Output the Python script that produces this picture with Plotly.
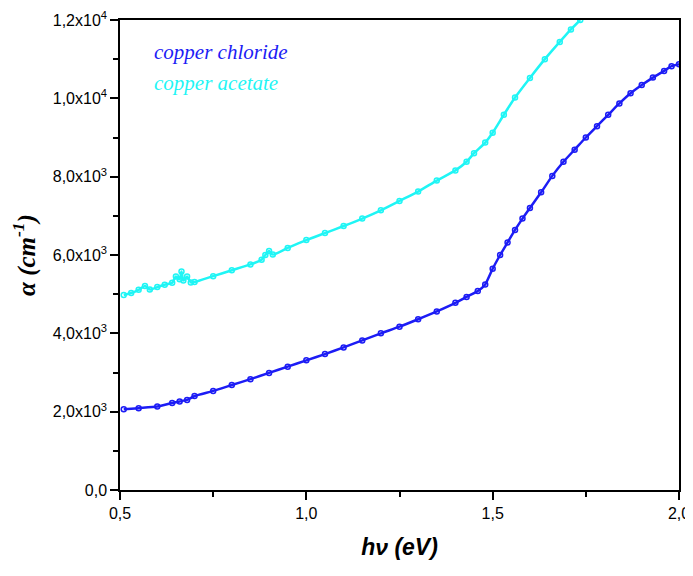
import plotly.graph_objects as go

# Copper chloride (blue)
chloride_E = [0.51, 0.55, 0.60, 0.64, 0.66, 0.68, 0.70, 0.75, 0.80, 0.85, 0.90, 0.95,
              1.00, 1.05, 1.10, 1.15, 1.20, 1.25, 1.30, 1.35, 1.40, 1.43, 1.46, 1.48,
              1.50, 1.52, 1.54, 1.56, 1.58, 1.60, 1.63, 1.66, 1.69, 1.72, 1.75, 1.78,
              1.81, 1.84, 1.87, 1.90, 1.93, 1.96, 1.98, 2.00]
chloride_alpha = [2060, 2090, 2130, 2220, 2260, 2300, 2400, 2530, 2680, 2830, 2990, 3150,
                  3310, 3470, 3640, 3820, 4000, 4170, 4360, 4560, 4780, 4930, 5080, 5250,
                  5650, 6000, 6320, 6640, 6930, 7200, 7600, 8020, 8380, 8690, 9000, 9290,
                  9580, 9870, 10130, 10340, 10530, 10700, 10820, 10870]

# Copper acetate (cyan)
acetate_E = [0.51, 0.53, 0.55, 0.567, 0.58, 0.60, 0.62, 0.64, 0.65, 0.66, 0.665, 0.67,
             0.68, 0.69, 0.70, 0.75, 0.80, 0.85, 0.88, 0.89, 0.90, 0.91, 0.95, 1.00,
             1.05, 1.10, 1.15, 1.20, 1.25, 1.30, 1.35, 1.40, 1.43, 1.45, 1.48, 1.50,
             1.53, 1.56, 1.60, 1.64, 1.68, 1.71, 1.735]
acetate_alpha = [4980, 5030, 5110, 5210, 5120, 5180, 5240, 5290, 5450, 5380, 5580, 5350,
                 5450, 5300, 5310, 5460, 5610, 5760, 5880, 6000, 6100, 6010, 6180, 6380,
                 6560, 6740, 6930, 7140, 7380, 7620, 7900, 8160, 8380, 8600, 8870, 9120,
                 9580, 10020, 10520, 11000, 11440, 11760, 12000]

series_names = ["copper chloride", "copper acetate"]
series_colors = ["#1c1cf5", "#1ff5f5"]

ytick_vals = [0, 2000, 4000, 6000, 8000, 10000, 12000]
ytick_text = ["0,0", "2,0x10<sup>3</sup>", "4,0x10<sup>3</sup>", "6,0x10<sup>3</sup>",
              "8,0x10<sup>3</sup>", "1,0x10<sup>4</sup>", "1,2x10<sup>4</sup>"]
xtick_vals = [0.5, 1.0, 1.5, 2.0]
xtick_text = ["0,5", "1,0", "1,5", "2,0"]

fig = go.Figure()
for xs, ys, name, col in [(chloride_E, chloride_alpha, series_names[0], series_colors[0]),
                          (acetate_E, acetate_alpha, series_names[1], series_colors[1])]:
    fig.add_trace(go.Scatter(
        x=xs, y=ys, name=name, mode="lines+markers",
        line=dict(color=col, width=2.5, shape="spline", smoothing=0.6),
        marker=dict(symbol="circle-open", size=5, color=col, line=dict(width=1.5)),
        showlegend=False, cliponaxis=True))

axis_common = dict(showline=True, linecolor="black", linewidth=1.5, mirror=True,
                   ticks="outside", ticklen=8, tickwidth=1.5, tickcolor="black",
                   showgrid=False, zeroline=False, automargin=False,
                   tickfont=dict(family="Liberation Sans, Arial", size=16, color="black"))

fig.update_xaxes(range=[0.5, 2.0], tickvals=xtick_vals, ticktext=xtick_text,
                 minor=dict(ticks="outside", ticklen=5, tickwidth=1.5, tickcolor="black",
                            dtick=0.25, tick0=0.5),
                 title=dict(text="<b><i>hν (eV)</i></b>",
                            font=dict(family="Liberation Sans, Arial", size=23, color="black"),
                            standoff=18),
                 **axis_common)
fig.update_yaxes(range=[0, 12000], tickvals=ytick_vals, ticktext=ytick_text,
                 minor=dict(ticks="outside", ticklen=5, tickwidth=1.5, tickcolor="black",
                            dtick=1000, tick0=0),
                 title=dict(text="<b><i>α (cm<sup>-1</sup>)</i></b>",
                            font=dict(family="Liberation Serif, Times New Roman", size=25, color="black"),
                            standoff=12),
                 **axis_common)

fig.add_annotation(x=0.057, y=0.932, xref="paper", yref="paper", xanchor="left", yanchor="middle",
                   text="<i>copper chloride</i>", showarrow=False,
                   font=dict(family="Liberation Serif, Times New Roman", size=21, color=series_colors[0]))
fig.add_annotation(x=0.057, y=0.866, xref="paper", yref="paper", xanchor="left", yanchor="middle",
                   text="<i>copper acetate</i>", showarrow=False,
                   font=dict(family="Liberation Serif, Times New Roman", size=21, color=series_colors[1]))

# page body has an 8px default margin; size the figure so the plot box lands where the reference has it
fig.update_layout(width=685, height=552, plot_bgcolor="white", paper_bgcolor="white",
                  margin=dict(l=112, r=14, t=12, b=70))

fig.write_html("out.html")
